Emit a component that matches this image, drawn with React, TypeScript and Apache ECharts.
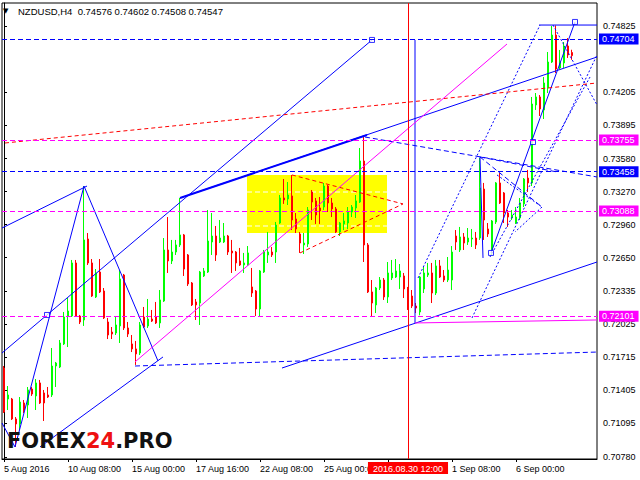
import React, { useEffect, useRef } from "react";
import * as echarts from "echarts";

// ---- candle data (H4 bars, index 0 = 5 Aug 2016 16:00) ----
const opens = [0.71615,0.71324,0.71324,0.71137,0.7109,0.71287,0.71268,0.71418,0.71353,0.71475,0.71381,0.71362,0.71362,0.71634,0.71625,0.71841,0.72103,0.72103,0.72601,0.72103,0.72066,0.72826,0.72601,0.72282,0.72516,0.72338,0.72047,0.71953,0.71944,0.7201,0.72488,0.71991,0.71841,0.71794,0.71756,0.72094,0.7201,0.72075,0.72094,0.72038,0.72244,0.72723,0.7262,0.72704,0.7277,0.72864,0.72676,0.72413,0.72235,0.72225,0.72479,0.72516,0.72798,0.72854,0.72798,0.72798,0.72854,0.72713,0.72704,0.7262,0.72582,0.72582,0.72376,0.72338,0.72169,0.72516,0.72676,0.72704,0.72704,0.72976,0.73211,0.73201,0.7323,0.73014,0.72873,0.7277,0.72779,0.73267,0.73183,0.73117,0.73126,0.73323,0.73164,0.73108,0.72892,0.72967,0.72976,0.73079,0.73117,0.73173,0.73558,0.7277,0.72329,0.72207,0.72366,0.72441,0.72282,0.7246,0.72469,0.72469,0.72479,0.72357,0.72291,0.72197,0.72141,0.72357,0.72488,0.72507,0.72319,0.72573,0.72479,0.72441,0.72441,0.72854,0.72723,0.72845,0.72798,0.72826,0.72835,0.72835,0.73295,0.7292,0.72723,0.72986,0.73352,0.73258,0.7307,0.73023,0.72976,0.73023,0.73155,0.73398,0.73352,0.74084,0.74159,0.74037,0.74243,0.74487,0.7474,0.74431,0.74478,0.74637,0.74576];
const closes = [0.71202,0.71362,0.71137,0.7109,0.71296,0.71221,0.71409,0.71371,0.71475,0.71287,0.71287,0.71343,0.71634,0.71662,0.7185,0.72094,0.7215,0.72601,0.72103,0.72047,0.72817,0.72601,0.72291,0.72507,0.72329,0.72085,0.71925,0.71934,0.72019,0.72451,0.71991,0.71934,0.71794,0.71747,0.72019,0.72,0.72075,0.72056,0.72038,0.72254,0.72723,0.7262,0.72704,0.7277,0.72864,0.72544,0.72404,0.72207,0.72207,0.72516,0.72526,0.72807,0.72854,0.72676,0.72835,0.72854,0.72704,0.72695,0.72601,0.72582,0.72601,0.72695,0.72319,0.72169,0.72526,0.72704,0.72704,0.72676,0.72957,0.73211,0.73192,0.73239,0.73004,0.7292,0.72788,0.72788,0.73098,0.73173,0.73051,0.73089,0.73323,0.73164,0.73108,0.72892,0.72976,0.72995,0.73079,0.73126,0.73183,0.73558,0.7277,0.72329,0.72225,0.72366,0.72441,0.72282,0.72507,0.72507,0.72526,0.72526,0.72357,0.72282,0.72197,0.72178,0.72469,0.72507,0.72507,0.72319,0.72573,0.72469,0.72441,0.72535,0.72704,0.72798,0.72845,0.72788,0.72835,0.72835,0.7277,0.73305,0.73004,0.72873,0.72995,0.73352,0.73164,0.7307,0.73032,0.73051,0.73032,0.73164,0.73389,0.73352,0.74093,0.74159,0.74046,0.7429,0.74487,0.7474,0.74421,0.74487,0.74637,0.74553,0.74547];
const lows = [0.71193,0.71221,0.71127,0.70874,0.71033,0.71193,0.71146,0.71353,0.71221,0.71278,0.71118,0.71334,0.71343,0.71437,0.71615,0.71831,0.71812,0.72094,0.72094,0.72028,0.7201,0.72582,0.72282,0.72272,0.72319,0.72075,0.71887,0.71887,0.71925,0.7185,0.71972,0.71906,0.71765,0.71644,0.71737,0.71991,0.71991,0.72047,0.72028,0.71991,0.72235,0.72507,0.72591,0.72676,0.72751,0.72479,0.72385,0.72197,0.72066,0.72019,0.72469,0.72507,0.72676,0.7262,0.72788,0.72788,0.72676,0.72507,0.72526,0.72573,0.72507,0.72573,0.72282,0.72103,0.72094,0.72507,0.72601,0.72657,0.72601,0.72967,0.73155,0.73145,0.7291,0.72882,0.72695,0.72685,0.72751,0.73004,0.72967,0.72967,0.73098,0.73079,0.73032,0.72882,0.72854,0.7291,0.7292,0.73032,0.73023,0.73164,0.7261,0.72319,0.72094,0.72131,0.72347,0.72254,0.72225,0.72441,0.7246,0.72357,0.72272,0.7216,0.72178,0.72131,0.7211,0.72319,0.72469,0.72225,0.723,0.7246,0.72422,0.72422,0.72347,0.72723,0.72704,0.72723,0.7277,0.72751,0.72732,0.72817,0.72817,0.72845,0.72676,0.72967,0.73155,0.72976,0.72939,0.73004,0.72967,0.73004,0.73126,0.73267,0.73323,0.74037,0.7398,0.73952,0.74196,0.74478,0.74384,0.74421,0.74431,0.74525,0.74508];
const highs = [0.71634,0.71446,0.71334,0.71155,0.71343,0.71315,0.71437,0.71437,0.71512,0.71503,0.71409,0.71437,0.71803,0.71672,0.71878,0.72141,0.72272,0.72629,0.72629,0.72113,0.73323,0.72882,0.72638,0.72544,0.72638,0.72366,0.72085,0.72,0.72094,0.72535,0.72498,0.72047,0.71925,0.71869,0.72047,0.72188,0.72263,0.7216,0.72235,0.72347,0.72835,0.73032,0.72817,0.72817,0.73211,0.72873,0.72685,0.72422,0.72263,0.72526,0.72554,0.73098,0.7307,0.72948,0.73004,0.72976,0.72864,0.72817,0.72713,0.72742,0.72695,0.7276,0.72554,0.72347,0.72535,0.72723,0.72892,0.72751,0.72986,0.73239,0.73389,0.73361,0.73427,0.7307,0.72892,0.72882,0.73126,0.73286,0.73211,0.7322,0.73352,0.73333,0.73211,0.73126,0.72986,0.7307,0.73126,0.73145,0.73239,0.7368,0.73783,0.72788,0.72441,0.72376,0.72469,0.7246,0.7261,0.72629,0.72638,0.72591,0.72507,0.72376,0.72347,0.72225,0.72479,0.72563,0.72601,0.72601,0.72629,0.72629,0.72535,0.72657,0.7276,0.7291,0.72939,0.72882,0.72929,0.7292,0.72892,0.73586,0.73352,0.72976,0.73004,0.73361,0.73445,0.73267,0.73098,0.73098,0.73126,0.73211,0.73398,0.73474,0.74159,0.74196,0.74177,0.74346,0.74581,0.74825,0.7483,0.746,0.74675,0.74712,0.74602];

// ---- axes ----
const xTickIndex = [0, 16, 32, 48, 64, 80, 96, 112, 128];
const xTickLabels = ["5 Aug 2016", "10 Aug 08:00", "15 Aug 00:00", "17 Aug 16:00", "22 Aug 08:00", "25 Aug 00:00", "29 Aug 16:00", "1 Sep 08:00", "6 Sep 00:00"];
const yTickValues = [0.7078, 0.71095, 0.71405, 0.71715, 0.72025, 0.72335, 0.7265, 0.7296, 0.7327, 0.7358, 0.73895, 0.74205, 0.74825];

// ---- horizontal levels with price tags ----
const levelValues = [0.74704, 0.73755, 0.73458, 0.73088, 0.72101];
const levelColors = ["#0000FF", "#FF00FF", "#0000FF", "#FF00FF", "#FF00FF"];
const bidPrice = 0.74547;
const crosshairIndex = 101;
const crosshairLabel = "2016.08.30 12:00";
const headerText = "NZDUSD,H4  0.74576 0.74602 0.74508 0.74547";

// ---- drawn objects: segments as [[index, price], [index, price]] ----
const blueSolidSegs = [
  [[-0.5, 0.72929], [20.75, 0.73323]],
  [[-0.5, 0.71099], [2.75, 0.70874]],
  [[2.75, 0.70874], [20, 0.73323]],
  [[20, 0.73323], [38.5, 0.71681]],
  [[9, 0.70874], [39.75, 0.71719]],
  [[-0.5, 0.71756], [92, 0.74694]],
  [[44, 0.73211], [148.25, 0.74534]],
  [[69.5, 0.71615], [148.25, 0.7261]],
  [[102.75, 0.74694], [102.75, 0.72038]],
  [[119, 0.73596], [119.75, 0.72648]],
  [[121.75, 0.72695], [142.75, 0.74863]],
  [[133.75, 0.74834], [148.25, 0.74834]],
];
const blueThickSegs = [
  [[44, 0.73211], [90.75, 0.73802]],
];
const blueDashedSegs = [
  [[90.25, 0.73783], [148.25, 0.73408]],
  [[119, 0.73596], [134.5, 0.73126]],
  [[119, 0.73596], [138.25, 0.73455]],
  [[32.75, 0.71634], [148.25, 0.71765]],
];
const blueDottedSegs = [
  [[103.5, 0.7246], [134, 0.74834]],
  [[117, 0.72085], [148.25, 0.74553]],
  [[121.5, 0.72657], [146.5, 0.74346]],
  [[137.25, 0.74834], [148.25, 0.74084]],
  [[134.5, 0.73126], [127.75, 0.72892]],
  [[123.25, 0.73427], [134.5, 0.73126]],
];
const redDashedSegs = [
  [[0.25, 0.73727], [148.25, 0.7429]],
  [[72, 0.73427], [99.75, 0.73155]],
  [[74, 0.72695], [99.75, 0.73155]],
];
const magentaSolidSegs = [
  [[32.75, 0.71672], [125.75, 0.74656]],
  [[102.75, 0.72038], [148.25, 0.72066]],
];
const whiteDashedSegs = [
  [[60.75, 0.73267], [95.75, 0.73267]],
  [[60.75, 0.72948], [95.75, 0.72948]],
];
const yellowZone = [[60.75, 0.73427, 95.75, 0.72882]];
const pivotSquares = [[10.75, 0.72113], [92, 0.74694], [121.75, 0.72695], [132.25, 0.73736], [142.75, 0.74863]];

const FONT = "Liberation Sans";

function segSeries(segs: number[][][], lineStyle: any, z: number) {
  return segs.map((seg) => ({
    type: "line",
    data: seg,
    symbol: "none",
    showSymbol: false,
    silent: true,
    clip: true,
    z,
    lineStyle,
  }));
}

function tag(text: string, bg: string) {
  return {
    show: true,
    position: "end",
    formatter: text,
    color: "#fff",
    backgroundColor: bg,
    padding: [0, 4, 0, 3],
    lineHeight: 11,
    fontSize: 9,
    fontFamily: FONT,
    distance: 2,
  };
}

export default function App() {
  const ref = useRef<HTMLDivElement>(null);
  useEffect(() => {
    if (!ref.current) return;
    const chart = echarts.init(ref.current, undefined, { renderer: "svg" });
    const candleData = opens.map((o, i) => [i, o, closes[i], lows[i], highs[i]]);

    const levelMarks: any[] = levelValues.map((v, k) => ({
      yAxis: v,
      lineStyle: { color: levelColors[k], type: [5, 3], width: 1 },
      label: tag(v.toFixed(5), levelColors[k]),
    }));
    levelMarks.push({
      yAxis: bidPrice,
      lineStyle: { color: "#000", opacity: 0, width: 0 },
      label: tag(bidPrice.toFixed(5), "#000"),
    });
    levelMarks.push({
      xAxis: crosshairIndex,
      lineStyle: { color: "#FF0000", type: "solid", width: 1 },
      label: {
        show: true,
        position: "start",
        formatter: crosshairLabel,
        color: "#fff",
        backgroundColor: "#FF0000",
        padding: [2, 5, 1, 5],
        fontSize: 9,
        fontFamily: FONT,
        distance: 3,
      },
    });

    const option: any = {
      animation: false,
      backgroundColor: "#fff",
      grid: { left: 2, right: 43, top: 3, bottom: 21, show: true, borderColor: "#000", borderWidth: 1, backgroundColor: "#fff" },
      xAxis: {
        type: "value",
        min: -0.5,
        max: 148.25,
        splitLine: { show: false },
        axisLine: { show: true, lineStyle: { color: "#000" } },
        axisTick: { show: true, customValues: xTickIndex, length: 3, lineStyle: { color: "#000" } },
        axisLabel: {
          show: true,
          customValues: xTickIndex,
          formatter: (v: number) => {
            const k = xTickIndex.indexOf(Math.round(v));
            return k >= 0 ? xTickLabels[k] : "";
          },
          align: "left",
          margin: 5,
          color: "#000",
          fontSize: 9,
          fontFamily: FONT,
        },
      },
      yAxis: {
        type: "value",
        position: "right",
        min: 0.707612,
        max: 0.750408,
        scale: true,
        splitLine: { show: false },
        axisLine: { show: true, lineStyle: { color: "#000" } },
        axisTick: { show: true, customValues: yTickValues, length: 3, lineStyle: { color: "#000" } },
        axisLabel: {
          show: true,
          customValues: yTickValues,
          formatter: (v: number) => v.toFixed(5),
          margin: 6,
          color: "#000",
          fontSize: 9,
          fontFamily: FONT,
        },
      },
      graphic: [
        { type: "text", left: 3, top: 7, style: { text: "\u25BC", fontSize: 7, fontFamily: "DejaVu Sans", fill: "#000" }, z: 100 },
        { type: "text", left: 18, top: 6, style: { text: headerText, fontSize: 9.5, fontFamily: FONT, fill: "#000" }, z: 100 },
        {
          type: "text",
          left: 7,
          top: 430,
          z: 100,
          style: {
            text: "{a|FOREX}{b|24}{a|.PRO}",
            rich: {
              a: { fontSize: 21, fontWeight: "bold", fontFamily: "DejaVu Sans", fill: "#111" },
              b: { fontSize: 21, fontWeight: "bold", fontFamily: "DejaVu Sans", fill: "#EE1111" },
            },
          },
        },
      ],
      series: [
        {
          type: "custom",
          data: yellowZone,
          encode: { x: [0, 2], y: [1, 3] },
          silent: true,
          z: 1,
          renderItem: (params: any, api: any) => {
            const p1 = api.coord([api.value(0), api.value(1)]);
            const p2 = api.coord([api.value(2), api.value(3)]);
            return {
              type: "rect",
              shape: { x: p1[0], y: p1[1], width: p2[0] - p1[0], height: p2[1] - p1[1] },
              style: { fill: "#FFFF00" },
            };
          },
        },
        ...segSeries(whiteDashedSegs, { color: "#FFFFFF", type: [5, 3], width: 1 }, 1.5),
        {
          type: "candlestick",
          data: candleData,
          encode: { x: 0, y: [1, 2, 3, 4] },
          barWidth: 2,
          silent: true,
          z: 2,
          itemStyle: {
            color: "#00FF00",
            color0: "#FF0000",
            borderColor: "#00FF00",
            borderColor0: "#FF0000",
            borderWidth: 1,
          },
          markLine: {
            silent: true,
            precision: 5,
            symbol: ["none", "none"],
            data: levelMarks,
          },
        },
        ...segSeries(blueSolidSegs, { color: "#0000FF", width: 1, type: "solid" }, 3),
        ...segSeries(blueThickSegs, { color: "#0000FF", width: 2, type: "solid" }, 3),
        ...segSeries(blueDashedSegs, { color: "#0000FF", width: 1, type: [5, 3] }, 3),
        ...segSeries(blueDottedSegs, { color: "#0000FF", width: 1, type: [2, 2] }, 3),
        ...segSeries(redDashedSegs, { color: "#FF0000", width: 1, type: [4, 3] }, 3),
        ...segSeries(magentaSolidSegs, { color: "#FF00FF", width: 1, type: "solid" }, 3),
        {
          type: "scatter",
          data: pivotSquares,
          symbol: "rect",
          symbolSize: 5,
          silent: true,
          z: 4,
          itemStyle: { color: "#fff", borderColor: "#0000FF", borderWidth: 1 },
        },
      ],
    };
    chart.setOption(option);
    return () => chart.dispose();
  }, []);
  return <div ref={ref} style={{ position: "absolute", left: 0, top: 0, width: 640, height: 480 }} />;
}
